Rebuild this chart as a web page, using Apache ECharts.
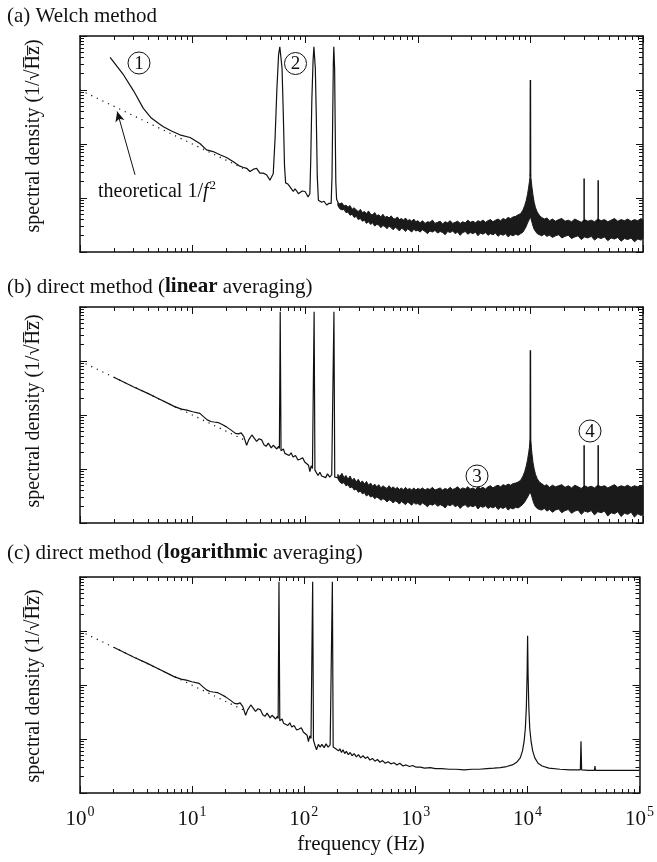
<!DOCTYPE html>
<html><head><meta charset="utf-8">
<script src="https://cdn.jsdelivr.net/npm/echarts@6/dist/echarts.min.js"></script>
<style>html,body{margin:0;padding:0;background:#fff}#c{width:657px;height:862px}</style>
</head><body><div id="c"></div>
<script>
// x: frequency in Hz; y: log10 of the spectral density (arbitrary units)
const xDecades = [1, 10, 100, 1000, 10000, 100000];
const minorMult = [2, 3, 4, 5, 6, 7, 8, 9];
const yDecades = [-4, -3, -2, -1, 0];

const theoryLine = [[1, -1.0], [30, -2.48]];
const arrowA = [[3.08, -2.57], [2.14, -1.40]];

// ---- panel (a) Welch ----
const curveA = [[1.85,-0.395],[2.4,-0.70],[3.0,-1.02],[3.65,-1.34],[4.3,-1.52],[5.0,-1.62],[5.5,-1.68],[6.5,-1.76],[7.7,-1.83],[9.5,-1.88],[11.6,-1.99],[13.3,-2.11],[15.2,-2.14],[17.5,-2.20],[20,-2.25],[23,-2.33],[26.3,-2.41],[28,-2.43],[30.2,-2.45],[32.3,-2.51],[34.5,-2.47],[37,-2.45],[39.6,-2.54],[42.4,-2.54],[45.4,-2.57],[48.6,-2.67],[52,-2.55],[54,-1.9],[56,-1.0],[58,-0.35],[59.5,-0.2],[60.8,-0.22],[62.3,-0.6],[64,-1.5],[65.5,-2.4],[67,-2.72],[70,-2.74],[73,-2.79],[76,-2.84],[78.5,-2.88],[81,-2.83],[84,-2.87],[87,-2.92],[90,-2.91],[94,-2.87],[99.6,-2.88],[103,-2.93],[106,-2.98],[110,-2.92],[112,-2.3],[114.5,-1.2],[117.5,-0.45],[119.5,-0.2],[121,-0.22],[123,-0.6],[125.5,-1.5],[128,-2.6],[131,-3.04],[135,-3.02],[140,-3.08],[147,-3.06],[155,-3.13],[162,-3.10],[170,-3.1],[173,-2.6],[175.5,-1.5],[177.8,-0.5],[179.5,-0.2],[180.8,-0.22],[182.5,-0.6],[184.5,-1.6],[187,-2.7],[190,-3.02],[195,-3.08]];

// noise band (upper / lower edge) sampled at these frequencies
const bandFreq = [
  195,203,212,221,230,240,250,261,272,284,296,309,322,336,350,365,381,397,414,432,450,470,490,511,533,556,580,605,631,658,686,716,746,778,812,847,883,921,960,1000,
  1050,1100,1160,1220,1280,1350,1420,1500,1580,1660,1750,1840,1940,2040,2150,2260,2380,2510,2640,2780,2930,3090,3250,3420,3600,3790,3990,4200,4420,4650,4900,5160,5430,5720,6020,6340,6670,7020,7390,7780,8190,
  8600,8900,9200,9450,9650,9800,9900,10000,10100,10200,10350,10550,10800,11100,11500,12000,
  12600,13300,14000,14800,15700,16700,17800,19000,20300,21700,23200,24800,26500,28300,30300,32400,34700,37100,39700,42500,45500,48700,52100,55800,59700,63900,68400,73200,78400,83900,89800,96100,100000];
const bandHiA = [
  -3.08,-3.11,-3.09,-3.15,-3.13,-3.17,-3.14,-3.21,-3.18,-3.22,-3.25,-3.21,-3.27,-3.25,-3.29,-3.24,-3.30,-3.31,-3.27,-3.33,-3.31,-3.35,-3.30,-3.36,-3.34,-3.37,-3.33,-3.38,-3.39,-3.35,-3.40,-3.38,-3.41,-3.37,-3.42,-3.40,-3.43,-3.39,-3.44,-3.42,
  -3.46,-3.42,-3.47,-3.44,-3.45,-3.41,-3.47,-3.45,-3.43,-3.48,-3.44,-3.46,-3.42,-3.47,-3.45,-3.43,-3.47,-3.44,-3.46,-3.41,-3.45,-3.43,-3.46,-3.42,-3.44,-3.41,-3.45,-3.42,-3.40,-3.44,-3.41,-3.39,-3.42,-3.38,-3.40,-3.36,-3.38,-3.35,-3.34,-3.31,-3.29,
  -3.22,-3.14,-3.04,-2.92,-2.80,-2.70,-2.62,-2.55,-2.62,-2.70,-2.82,-2.95,-3.08,-3.18,-3.26,-3.32,
  -3.36,-3.39,-3.37,-3.42,-3.39,-3.43,-3.40,-3.38,-3.43,-3.41,-3.44,-3.39,-3.42,-3.45,-3.40,-3.43,-3.41,-3.44,-3.39,-3.42,-3.40,-3.44,-3.41,-3.38,-3.43,-3.40,-3.42,-3.39,-3.43,-3.40,-3.42,-3.38,-3.41];
const bandLoA = [
  -3.14,-3.20,-3.22,-3.21,-3.27,-3.26,-3.32,-3.30,-3.36,-3.34,-3.40,-3.38,-3.43,-3.41,-3.47,-3.44,-3.49,-3.46,-3.52,-3.49,-3.50,-3.55,-3.51,-3.53,-3.57,-3.52,-3.55,-3.59,-3.54,-3.57,-3.61,-3.56,-3.58,-3.62,-3.57,-3.60,-3.63,-3.58,-3.61,-3.60,
  -3.63,-3.59,-3.62,-3.66,-3.61,-3.63,-3.60,-3.65,-3.62,-3.64,-3.68,-3.62,-3.64,-3.61,-3.66,-3.63,-3.69,-3.64,-3.62,-3.67,-3.64,-3.66,-3.63,-3.70,-3.65,-3.67,-3.64,-3.69,-3.66,-3.68,-3.65,-3.71,-3.67,-3.69,-3.66,-3.72,-3.68,-3.70,-3.67,-3.69,-3.66,
  -3.63,-3.58,-3.52,-3.46,-3.42,-3.39,-3.37,-3.36,-3.38,-3.41,-3.46,-3.52,-3.58,-3.62,-3.66,-3.68,
  -3.70,-3.67,-3.71,-3.69,-3.73,-3.70,-3.68,-3.74,-3.71,-3.69,-3.75,-3.72,-3.70,-3.77,-3.72,-3.74,-3.71,-3.78,-3.73,-3.75,-3.72,-3.79,-3.74,-3.76,-3.73,-3.80,-3.75,-3.77,-3.74,-3.81,-3.76,-3.78,-3.75];
const peakA = [[9960,-2.6],[10000,-0.815],[10040,-2.6]];
const spikesA = [[30000,-3.45,-2.64],[40000,-3.45,-2.67]];

// ---- panel (b) linear averaging ----
const curveB = [[2,-1.30],[3,-1.48],[4,-1.60],[5,-1.70],[6,-1.78],[7,-1.85],[8,-1.89],[8.9,-1.91],[10,-1.94],[11.6,-1.97],[12.5,-2.03],[13.5,-2.09],[14.5,-2.12],[15.5,-2.13],[16.9,-2.14],[18.5,-2.18],[20,-2.22],[22,-2.28],[24,-2.34],[25.5,-2.35],[27,-2.33],[28.5,-2.40],[30.2,-2.56],[31.5,-2.46],[33.6,-2.37],[35,-2.42],[37,-2.49],[39,-2.44],[41,-2.46],[43,-2.55],[45,-2.58],[47,-2.52],[50,-2.61],[52,-2.56],[54,-2.59],[56,-2.63],[58,-2.58],[59,-2.62],[60,-0.087],[61,-2.66],[62,-2.68],[64,-2.63],[66,-2.71],[68,-2.69],[72,-2.75],[75,-2.70],[78,-2.78],[82,-2.75],[86,-2.83],[90,-2.82],[95,-2.79],[99,-2.87],[103,-2.85],[107,-2.93],[110,-3.05],[113,-2.94],[116,-2.99],[118,-3.0],[120,-0.087],[122,-3.02],[126,-3.05],[130,-3.12],[135,-3.06],[140,-3.13],[145,-3.10],[152,-3.16],[158,-3.09],[165,-3.15],[172,-3.11],[177,-3.13],[180,-0.087],[183,-3.15],[188,-3.12],[195,-3.16]];
const bandHiB = [
  -3.10,-3.14,-3.08,-3.16,-3.12,-3.19,-3.13,-3.21,-3.17,-3.24,-3.19,-3.26,-3.22,-3.28,-3.23,-3.30,-3.26,-3.32,-3.28,-3.33,-3.29,-3.35,-3.31,-3.34,-3.36,-3.31,-3.36,-3.33,-3.37,-3.34,-3.38,-3.35,-3.39,-3.34,-3.38,-3.36,-3.39,-3.35,-3.39,-3.36,
  -3.38,-3.35,-3.39,-3.36,-3.38,-3.34,-3.39,-3.37,-3.35,-3.39,-3.36,-3.38,-3.34,-3.38,-3.36,-3.33,-3.38,-3.35,-3.37,-3.33,-3.37,-3.35,-3.38,-3.33,-3.36,-3.34,-3.37,-3.33,-3.31,-3.35,-3.32,-3.30,-3.33,-3.29,-3.31,-3.28,-3.30,-3.27,-3.26,-3.24,-3.21,
  -3.13,-3.05,-2.94,-2.82,-2.70,-2.60,-2.52,-2.45,-2.52,-2.60,-2.74,-2.88,-3.00,-3.10,-3.18,-3.24,
  -3.27,-3.31,-3.29,-3.34,-3.30,-3.33,-3.31,-3.29,-3.34,-3.31,-3.35,-3.30,-3.33,-3.36,-3.31,-3.34,-3.32,-3.35,-3.30,-3.33,-3.31,-3.35,-3.32,-3.29,-3.34,-3.31,-3.33,-3.30,-3.34,-3.31,-3.33,-3.30,-3.32];
const bandLoB = [
  -3.18,-3.24,-3.27,-3.25,-3.31,-3.29,-3.35,-3.33,-3.39,-3.37,-3.43,-3.41,-3.46,-3.44,-3.50,-3.47,-3.52,-3.50,-3.55,-3.52,-3.54,-3.58,-3.55,-3.57,-3.61,-3.57,-3.59,-3.63,-3.59,-3.61,-3.65,-3.60,-3.63,-3.66,-3.61,-3.64,-3.67,-3.62,-3.65,-3.64,
  -3.67,-3.63,-3.66,-3.70,-3.65,-3.67,-3.64,-3.69,-3.66,-3.68,-3.72,-3.66,-3.68,-3.65,-3.70,-3.67,-3.73,-3.68,-3.66,-3.71,-3.68,-3.70,-3.67,-3.74,-3.69,-3.71,-3.68,-3.73,-3.70,-3.72,-3.69,-3.75,-3.71,-3.73,-3.70,-3.76,-3.72,-3.74,-3.71,-3.72,-3.69,
  -3.65,-3.61,-3.56,-3.52,-3.48,-3.46,-3.45,-3.45,-3.46,-3.48,-3.53,-3.59,-3.65,-3.70,-3.73,-3.75,
  -3.76,-3.73,-3.78,-3.75,-3.80,-3.76,-3.74,-3.81,-3.77,-3.75,-3.82,-3.78,-3.76,-3.84,-3.78,-3.80,-3.77,-3.85,-3.79,-3.81,-3.78,-3.87,-3.81,-3.83,-3.79,-3.88,-3.82,-3.84,-3.80,-3.89,-3.83,-3.86,-3.84];
const peakB = [[9960,-2.6],[10000,-0.80],[10040,-2.6]];
const spikesB = [[30000,-3.36,-2.56],[40000,-3.36,-2.56]];

// ---- panel (c) logarithmic averaging ----
const curveC = [[2,-1.30],[3,-1.48],[4,-1.60],[5,-1.70],[6,-1.78],[7,-1.85],[8,-1.89],[8.9,-1.91],[10,-1.94],[11.6,-1.97],[12.5,-2.03],[13.5,-2.09],[14.5,-2.12],[15.5,-2.13],[16.9,-2.14],[18.5,-2.18],[20,-2.22],[22,-2.28],[24,-2.34],[25.5,-2.35],[27,-2.33],[28.5,-2.40],[30.2,-2.56],[31.5,-2.46],[33.6,-2.37],[35,-2.42],[37,-2.49],[39,-2.44],[41,-2.46],[43,-2.55],[45,-2.58],[47,-2.52],[50,-2.61],[52,-2.56],[54,-2.59],[56,-2.63],[58,-2.58],[59,-2.62],[60,-0.087],[61,-2.66],[62,-2.68],[64,-2.63],[66,-2.71],[68,-2.69],[72,-2.75],[75,-2.70],[78,-2.78],[82,-2.75],[86,-2.83],[90,-2.82],[95,-2.79],[99,-2.87],[103,-2.85],[107,-2.93],[110,-3.05],[113,-2.94],[116,-2.99],[118,-3.0],[120,-0.087],[122,-3.02],[126,-3.12],[130,-3.20],[135,-3.10],[140,-3.15],[145,-3.10],[152,-3.16],[158,-3.09],[165,-3.15],[172,-3.11],[177,-3.13],[180,-0.087],[183,-3.15],[188,-3.12],[193,-3.18],[198,-3.15],[204,-3.22],[210,-3.18],[217,-3.25],[224,-3.20],[232,-3.27],[240,-3.23],[250,-3.29],[260,-3.25],[270,-3.31],[282,-3.27],[295,-3.33],[308,-3.29],[322,-3.35],[338,-3.31],[355,-3.36],[372,-3.33],[390,-3.39],[410,-3.36],[432,-3.41],[455,-3.38],[480,-3.43],[505,-3.40],[535,-3.45],[565,-3.42],[600,-3.46],[640,-3.44],[680,-3.48],[720,-3.45],[770,-3.50],[820,-3.48],[880,-3.51],[940,-3.49],[1000,-3.52],[1100,-3.52],[1200,-3.54],[1350,-3.53],[1500,-3.55],[1700,-3.55],[2000,-3.56],[2300,-3.56],[2700,-3.57],[3200,-3.56],[3700,-3.56],[4300,-3.55],[5000,-3.54],[5700,-3.53],[6500,-3.51],[7300,-3.48],[8000,-3.43],[8600,-3.35],[9000,-3.22],[9300,-3.05],[9550,-2.8],[9750,-2.4],[9900,-1.8],[10000,-1.09],[10100,-1.8],[10250,-2.4],[10450,-2.8],[10750,-3.05],[11100,-3.22],[11600,-3.35],[12400,-3.45],[13500,-3.50],[15500,-3.54],[19500,-3.56],[24000,-3.57],[29600,-3.57],[30000,-3.04],[30400,-3.57],[35000,-3.58],[39600,-3.58],[40000,-3.50],[40400,-3.58],[50000,-3.58],[70000,-3.58],[100000,-3.58]];

// ---------------- layout & styling ----------------
const INK = '#111';
const SERIF = 'Liberation Serif';
const panelTops = [36, 307, 577];
const gridH = 216;

const xMinor = [];
xDecades.slice(0, 5).forEach(d => minorMult.forEach(m => xMinor.push(m * d)));
const yMinor = [];
yDecades.slice(0, 4).forEach(e => minorMult.forEach(m => yMinor.push(e + Math.log10(m))));

const grid = panelTops.map(t => ({ left: 80, right: 14, top: t, height: gridH }));
const xAxis = [], yAxis = [];
panelTops.forEach((t, gi) => {
  const xb = { type: 'log', logBase: 10, min: 1, max: 100000, gridIndex: gi, splitLine: { show: false }, axisLabel: { show: false } };
  const lineOn = { show: true, onZero: false, lineStyle: { color: INK, width: 1.5 } };
  const lineOff = { show: false, onZero: false };
  const majT = { show: true, inside: true, length: 7, lineStyle: { color: INK, width: 1 } };
  const minT = { show: true, inside: true, length: 4, lineStyle: { color: INK, width: 1 } };
  const bottomMajor = Object.assign({}, xb, { position: 'bottom', axisLine: lineOn, axisTick: majT });
  if (gi === 2) {
    bottomMajor.axisLabel = {
      show: true, margin: 12,
      formatter: v => '{b|10}{s|' + Math.round(Math.log10(v)) + '}',
      rich: {
        b: { fontSize: 21, fontFamily: SERIF, color: INK },
        s: { fontSize: 14, fontFamily: SERIF, color: INK, padding: [0, 0, 14, 1] }
      }
    };
  }
  xAxis.push(bottomMajor);
  xAxis.push(Object.assign({}, xb, { position: 'bottom', axisLine: lineOff, axisTick: Object.assign({ customValues: xMinor }, minT) }));
  xAxis.push(Object.assign({}, xb, { position: 'top', axisLine: lineOn, axisTick: majT }));
  xAxis.push(Object.assign({}, xb, { position: 'top', axisLine: lineOff, axisTick: Object.assign({ customValues: xMinor }, minT) }));

  const yb = { type: 'value', min: -4, max: 0, interval: 1, gridIndex: gi, splitLine: { show: false }, axisLabel: { show: false } };
  yAxis.push(Object.assign({}, yb, { position: 'left', axisLine: lineOn, axisTick: majT }));
  yAxis.push(Object.assign({}, yb, { position: 'left', axisLine: lineOff, axisTick: Object.assign({ customValues: yMinor }, minT) }));
  yAxis.push(Object.assign({}, yb, { position: 'right', axisLine: lineOn, axisTick: majT }));
  yAxis.push(Object.assign({}, yb, { position: 'right', axisLine: lineOff, axisTick: Object.assign({ customValues: yMinor }, minT) }));
});

function lineSeries(gi, data, extra) {
  return Object.assign({
    type: 'line', xAxisIndex: gi * 4, yAxisIndex: gi * 4, data: data,
    showSymbol: false, symbol: 'none', silent: true, animation: false,
    lineStyle: { color: INK, width: 1 }
  }, extra || {});
}
function theorySeries(gi, extra) {
  return lineSeries(gi, theoryLine, Object.assign({ z: 1, lineStyle: { color: INK, width: 1.2, type: [1.2, 5] } }, extra || {}));
}
function bandSeries(gi, freq, hi, lo) {
  return {
    type: 'custom', xAxisIndex: gi * 4, yAxisIndex: gi * 4, silent: true, animation: false,
    data: [[freq[0], hi[0]]],
    renderItem: (params, api) => {
      const pts = [];
      for (let i = 0; i < freq.length; i++) pts.push(api.coord([freq[i], hi[i]]));
      for (let i = freq.length - 1; i >= 0; i--) pts.push(api.coord([freq[i], lo[i]]));
      return { type: 'polygon', shape: { points: pts }, style: { fill: '#1a1a1a', stroke: '#1a1a1a', lineWidth: 1 } };
    }
  };
}
function spikeSeries(gi, spikes) {
  const d = [];
  spikes.forEach(s => { d.push([s[0], s[1]]); d.push([s[0], s[2]]); d.push([s[0], null]); });
  return lineSeries(gi, d, { connectNulls: false, lineStyle: { color: INK, width: 1.5 } });
}

const series = [
  theorySeries(0, {
    markLine: {
      silent: true, symbol: ['none', 'arrow'], symbolSize: [7, 10], animation: false,
      label: { show: false }, lineStyle: { color: INK, width: 1, type: 'solid' },
      data: [[{ coord: arrowA[0] }, { coord: arrowA[1] }]]
    }
  }),
  lineSeries(0, curveA, { lineStyle: { color: INK, width: 1.2 } }),
  bandSeries(0, bandFreq, bandHiA, bandLoA),
  lineSeries(0, peakA, { lineStyle: { color: INK, width: 1.5 } }),
  spikeSeries(0, spikesA),

  theorySeries(1),
  lineSeries(1, curveB, { lineStyle: { color: INK, width: 1.2 } }),
  bandSeries(1, bandFreq, bandHiB, bandLoB),
  lineSeries(1, peakB, { lineStyle: { color: INK, width: 1.5 } }),
  spikeSeries(1, spikesB),

  theorySeries(2),
  lineSeries(2, curveC, { lineStyle: { color: INK, width: 1.2 } })
];

function txt(x, y, text, opts) {
  return Object.assign({ type: 'text', x: x, y: y, silent: true,
    style: Object.assign({ text: text, fontSize: 21, fontFamily: SERIF, fill: INK, align: 'left', verticalAlign: 'middle' }, (opts && opts.style) || {}) },
    opts && opts.rotation ? { rotation: opts.rotation } : {});
}
const boldRich = { b: { fontSize: 21, fontFamily: SERIF, fontWeight: 'bold', fill: INK } };
const graphic = [
  txt(7, 16, '(a) Welch method'),
  txt(7, 287, '(b) direct method ({b|linear} averaging)', { style: { rich: boldRich } }),
  txt(7, 553, '(c) direct method ({b|logarithmic} averaging)', { style: { rich: boldRich } }),
  txt(34, 136, 'spectral density (1/\u221AH\u0305z\u0305)', { rotation: Math.PI / 2, style: { fontSize: 20, align: 'center' } }),
  txt(34, 411, 'spectral density (1/\u221AH\u0305z\u0305)', { rotation: Math.PI / 2, style: { fontSize: 20, align: 'center' } }),
  txt(34, 686, 'spectral density (1/\u221AH\u0305z\u0305)', { rotation: Math.PI / 2, style: { fontSize: 20, align: 'center' } }),
  txt(361, 844, 'frequency (Hz)', { style: { align: 'center' } }),
  txt(98, 192, 'theoretical 1/{i|f}{s|2}', { style: { fontSize: 20, rich: {
    i: { fontSize: 20, fontFamily: SERIF, fontStyle: 'italic', fill: INK },
    s: { fontSize: 13, fontFamily: SERIF, fill: INK, padding: [0, 0, 12, 1] } } } })
];
[[139, 63, '1'], [295.5, 63.5, '2'], [477, 476, '3'], [590, 431, '4']].forEach(c => {
  graphic.push({ type: 'circle', silent: true, shape: { cx: c[0], cy: c[1], r: 11 }, style: { fill: '#fff', stroke: INK, lineWidth: 1 } });
  graphic.push(txt(c[0], c[1] + 1, c[2], { style: { fontSize: 19, align: 'center' } }));
});

const chart = echarts.init(document.getElementById('c'), null, { renderer: 'canvas' });
chart.setOption({ animation: false, backgroundColor: '#fff', grid, xAxis, yAxis, series, graphic });
</script>
</body></html>
